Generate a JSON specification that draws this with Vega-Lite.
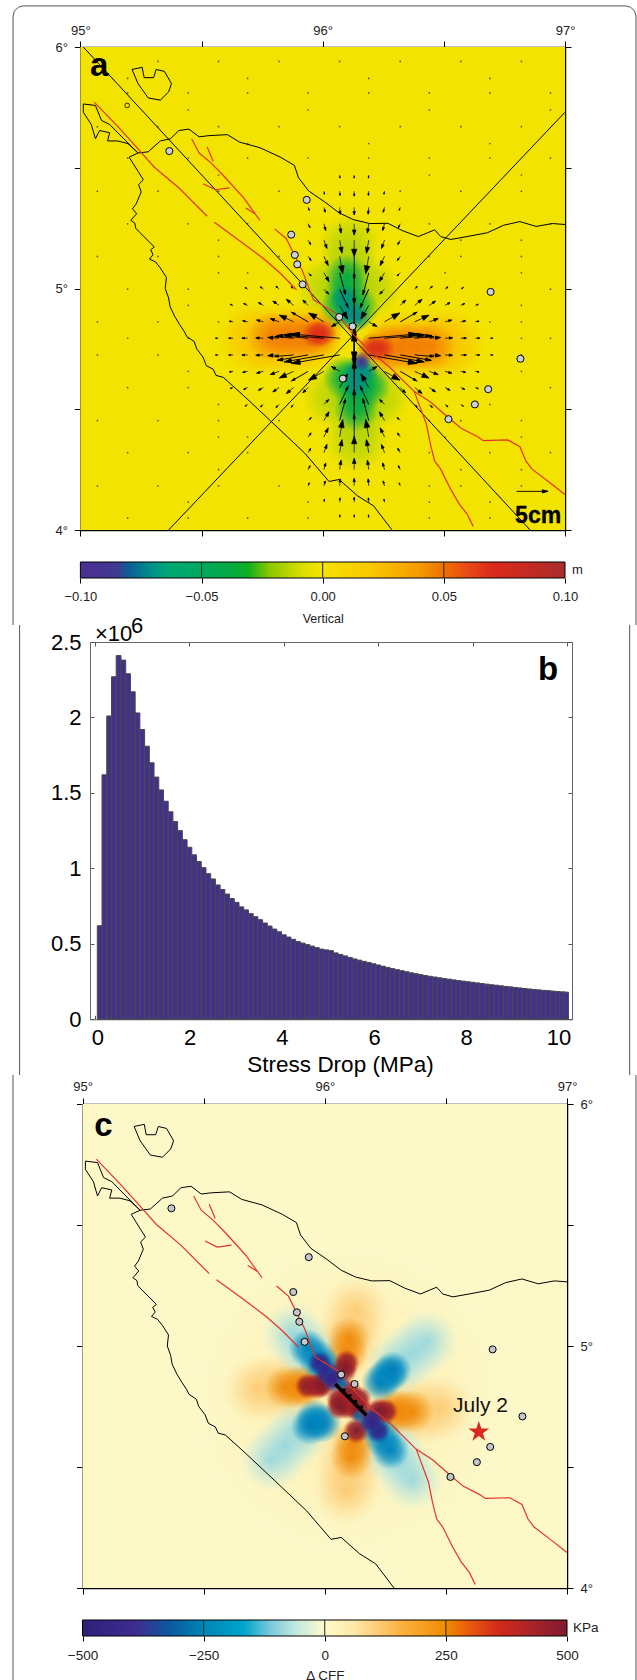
{"$schema":"https://vega.github.io/schema/vega-lite/v6.json","padding":0,"spacing":0,"bounds":"flush","background":"white","config":{"view":{"stroke":null},"font":"Liberation Sans","text":{"font":"Liberation Sans"},"axis":{"labelFont":"Liberation Sans","titleFont":"Liberation Sans","titleFontWeight":"normal","grid":false,"zindex":2}},
"datasets":{
"coast":[{"s":"n","x":95.238,"y":5.561},{"s":"n","x":95.28,"y":5.566},{"s":"n","x":95.33,"y":5.611},{"s":"n","x":95.372,"y":5.62},{"s":"n","x":95.406,"y":5.654},{"s":"n","x":95.448,"y":5.66},{"s":"n","x":95.49,"y":5.628},{"s":"n","x":95.531,"y":5.633},{"s":"n","x":95.607,"y":5.637},{"s":"n","x":95.657,"y":5.606},{"s":"n","x":95.741,"y":5.583},{"s":"n","x":95.825,"y":5.544},{"s":"n","x":95.883,"y":5.51},{"s":"n","x":95.9,"y":5.459},{"s":"n","x":95.942,"y":5.404},{"s":"n","x":96.009,"y":5.358},{"s":"n","x":96.068,"y":5.313},{"s":"n","x":96.127,"y":5.285},{"s":"n","x":96.194,"y":5.269},{"s":"n","x":96.269,"y":5.27},{"s":"n","x":96.328,"y":5.24},{"s":"n","x":96.395,"y":5.215},{"s":"n","x":96.462,"y":5.243},{"s":"n","x":96.487,"y":5.215},{"s":"n","x":96.529,"y":5.203},{"s":"n","x":96.596,"y":5.215},{"s":"n","x":96.68,"y":5.231},{"s":"n","x":96.747,"y":5.262},{"s":"n","x":96.814,"y":5.277},{"s":"n","x":96.881,"y":5.257},{"s":"n","x":96.948,"y":5.269},{"s":"n","x":97,"y":5.265},
{"s":"w","x":95.238,"y":5.561},{"s":"w","x":95.201,"y":5.544},{"s":"w","x":95.238,"y":5.485},{"s":"w","x":95.26,"y":5.45},{"s":"w","x":95.24,"y":5.43},{"s":"w","x":95.251,"y":5.4},{"s":"w","x":95.23,"y":5.35},{"s":"w","x":95.215,"y":5.33},{"s":"w","x":95.232,"y":5.31},{"s":"w","x":95.208,"y":5.282},{"s":"w","x":95.225,"y":5.27},{"s":"w","x":95.228,"y":5.25},{"s":"w","x":95.246,"y":5.231},{"s":"w","x":95.305,"y":5.172},{"s":"w","x":95.29,"y":5.16},{"s":"w","x":95.3,"y":5.14},{"s":"w","x":95.285,"y":5.122},{"s":"w","x":95.31,"y":5.11},{"s":"w","x":95.33,"y":5.085},{"s":"w","x":95.355,"y":5.046},{"s":"w","x":95.35,"y":5.0},{"s":"w","x":95.364,"y":4.961},{"s":"w","x":95.37,"y":4.925},{"s":"w","x":95.389,"y":4.885},{"s":"w","x":95.41,"y":4.85},{"s":"w","x":95.43,"y":4.82},{"s":"w","x":95.439,"y":4.801},{"s":"w","x":95.47,"y":4.78},{"s":"w","x":95.48,"y":4.75},{"s":"w","x":95.506,"y":4.716},{"s":"w","x":95.52,"y":4.68},{"s":"w","x":95.548,"y":4.666},{"s":"w","x":95.56,"y":4.64},{"s":"w","x":95.59,"y":4.632},{"s":"w","x":95.674,"y":4.556},{"s":"w","x":95.791,"y":4.446},{"s":"w","x":95.925,"y":4.319},{"s":"w","x":96.026,"y":4.201},{"s":"w","x":96.068,"y":4.209},{"s":"w","x":96.143,"y":4.142},{"s":"w","x":96.21,"y":4.1},{"s":"w","x":96.286,"y":4},
{"s":"c","x":95.238,"y":5.561},{"s":"c","x":95.196,"y":5.6},{"s":"c","x":95.154,"y":5.611},{"s":"c","x":95.112,"y":5.611},{"s":"c","x":95.121,"y":5.645},{"s":"c","x":95.079,"y":5.654},{"s":"c","x":95.062,"y":5.62},{"s":"c","x":95.045,"y":5.679},{"s":"c","x":95.012,"y":5.73},{"s":"c","x":95.012,"y":5.764},{"s":"c","x":95.062,"y":5.758},{"s":"c","x":95.087,"y":5.696},{"s":"c","x":95.121,"y":5.679},{"s":"c","x":95.171,"y":5.628},{"s":"c","x":95.238,"y":5.561},
{"s":"i","x":95.213,"y":5.907},{"s":"i","x":95.255,"y":5.916},{"s":"i","x":95.263,"y":5.873},{"s":"i","x":95.302,"y":5.873},{"s":"i","x":95.313,"y":5.907},{"s":"i","x":95.347,"y":5.899},{"s":"i","x":95.376,"y":5.848},{"s":"i","x":95.364,"y":5.814},{"s":"i","x":95.33,"y":5.78},{"s":"i","x":95.28,"y":5.789},{"s":"i","x":95.238,"y":5.848},{"s":"i","x":95.213,"y":5.907}],
"red":[{"s":"r1","x":95.057,"y":5.772},{"s":"r1","x":95.154,"y":5.671},{"s":"r1","x":95.238,"y":5.578},{"s":"r1","x":95.305,"y":5.502},{"s":"r1","x":95.406,"y":5.417},{"s":"r1","x":95.523,"y":5.299},
{"s":"r2","x":95.553,"y":5.274},{"s":"r2","x":95.657,"y":5.198},{"s":"r2","x":95.758,"y":5.122},{"s":"r2","x":95.825,"y":5.063},{"s":"r2","x":95.892,"y":4.995},
{"s":"r3","x":95.801,"y":5.248},{"s":"r3","x":95.85,"y":5.206},{"s":"r3","x":95.883,"y":5.139},{"s":"r3","x":95.917,"y":5.071},{"s":"r3","x":95.939,"y":5.012},{"s":"r3","x":95.962,"y":4.953},{"s":"r3","x":96.06,"y":4.894},{"s":"r3","x":96.127,"y":4.809},{"s":"r3","x":96.194,"y":4.742},{"s":"r3","x":96.277,"y":4.674},{"s":"r3","x":96.378,"y":4.573},{"s":"r3","x":96.445,"y":4.53},{"s":"r3","x":96.512,"y":4.471},{"s":"r3","x":96.571,"y":4.421},{"s":"r3","x":96.638,"y":4.387},{"s":"r3","x":96.663,"y":4.37},{"s":"r3","x":96.764,"y":4.373},{"s":"r3","x":96.814,"y":4.345},{"s":"r3","x":96.839,"y":4.285},{"s":"r3","x":96.864,"y":4.252},{"s":"r3","x":96.931,"y":4.201},{"s":"r3","x":97,"y":4.147},
{"s":"r4","x":96.378,"y":4.573},{"s":"r4","x":96.428,"y":4.438},{"s":"r4","x":96.445,"y":4.353},{"s":"r4","x":96.462,"y":4.285},{"s":"r4","x":96.487,"y":4.252},{"s":"r4","x":96.529,"y":4.167},{"s":"r4","x":96.563,"y":4.108},{"s":"r4","x":96.596,"y":4.066},{"s":"r4","x":96.621,"y":4.015},
{"s":"r5","x":95.459,"y":5.62},{"s":"r5","x":95.49,"y":5.561},{"s":"r5","x":95.54,"y":5.519},{"s":"r5","x":95.59,"y":5.468},{"s":"r5","x":95.674,"y":5.375},{"s":"r5","x":95.741,"y":5.282},
{"s":"r6","x":95.523,"y":5.586},{"s":"r6","x":95.548,"y":5.527},
{"s":"r7","x":95.506,"y":5.434},{"s":"r7","x":95.557,"y":5.409},{"s":"r7","x":95.615,"y":5.417},
{"s":"r8","x":95.682,"y":5.333},{"s":"r8","x":95.724,"y":5.307}],
"st":[{"x":95.367,"y":5.569},{"x":95.934,"y":5.367},{"x":95.87,"y":5.223},{"x":95.885,"y":5.139},{"x":95.895,"y":5.1},{"x":95.917,"y":5.017},{"x":96.068,"y":4.882},{"x":96.123,"y":4.843},{"x":96.083,"y":4.627},{"x":96.519,"y":4.459},{"x":96.628,"y":4.52},{"x":96.683,"y":4.583},{"x":96.816,"y":4.709},{"x":96.693,"y":4.986}],
"hist":[{"s":0.1,"n":620000},{"s":0.2,"n":1620000},{"s":0.3,"n":2010000},{"s":0.4,"n":2270000},{"s":0.5,"n":2410000},{"s":0.6,"n":2380000},{"s":0.7,"n":2290000},{"s":0.8,"n":2170000},{"s":0.9,"n":2030000},{"s":1.0,"n":1920000},{"s":1.1,"n":1810000},{"s":1.2,"n":1700000},{"s":1.3,"n":1605000},{"s":1.4,"n":1520000},{"s":1.5,"n":1445000},{"s":1.6,"n":1375000},{"s":1.7,"n":1310000},{"s":1.8,"n":1250000},{"s":1.9,"n":1190000},{"s":2.0,"n":1140000},{"s":2.1,"n":1090000},{"s":2.2,"n":1045000},{"s":2.3,"n":1005000},{"s":2.4,"n":965000},{"s":2.5,"n":930000},{"s":2.6,"n":890000},{"s":2.7,"n":860000},{"s":2.8,"n":830000},{"s":2.9,"n":800000},{"s":3.0,"n":775000},{"s":3.1,"n":745000},{"s":3.2,"n":725000},{"s":3.3,"n":700000},{"s":3.4,"n":680000},{"s":3.5,"n":660000},{"s":3.6,"n":638000},{"s":3.7,"n":618000},{"s":3.8,"n":598000},{"s":3.9,"n":580000},{"s":4.0,"n":560000},{"s":4.1,"n":545000},{"s":4.2,"n":530000},{"s":4.3,"n":515000},{"s":4.4,"n":505000},{"s":4.5,"n":495000},{"s":4.6,"n":485000},{"s":4.7,"n":475000},{"s":4.8,"n":465000},{"s":4.9,"n":460000},{"s":5.0,"n":455000},{"s":5.1,"n":440000},{"s":5.2,"n":430000},{"s":5.3,"n":420000},{"s":5.4,"n":410000},{"s":5.5,"n":400000},{"s":5.6,"n":392000},{"s":5.7,"n":384000},{"s":5.8,"n":376000},{"s":5.9,"n":368000},{"s":6.0,"n":360000},{"s":6.1,"n":352000},{"s":6.2,"n":344000},{"s":6.3,"n":336000},{"s":6.4,"n":329000},{"s":6.5,"n":322000},{"s":6.6,"n":315000},{"s":6.7,"n":308000},{"s":6.8,"n":302000},{"s":6.9,"n":296000},{"s":7.0,"n":290000},{"s":7.1,"n":285000},{"s":7.2,"n":280000},{"s":7.3,"n":275000},{"s":7.4,"n":270000},{"s":7.5,"n":266000},{"s":7.6,"n":261000},{"s":7.7,"n":257000},{"s":7.8,"n":253000},{"s":7.9,"n":249000},{"s":8.0,"n":245000},{"s":8.1,"n":241000},{"s":8.2,"n":237000},{"s":8.3,"n":233000},{"s":8.4,"n":229000},{"s":8.5,"n":226000},{"s":8.6,"n":222000},{"s":8.7,"n":218000},{"s":8.8,"n":215000},{"s":8.9,"n":211000},{"s":9.0,"n":208000},{"s":9.1,"n":204000},{"s":9.2,"n":201000},{"s":9.3,"n":198000},{"s":9.4,"n":195000},{"s":9.5,"n":192000},{"s":9.6,"n":190000},{"s":9.7,"n":187000},{"s":9.8,"n":184000},{"s":9.9,"n":182000},{"s":9.98,"n":180000}],
"heatA":[{"x":96.11,"y":5.18,"v":-0.02},{"x":96.11,"y":5.08,"v":-0.02},{"x":96.1,"y":4.98,"v":-0.02},{"x":96.02,"y":5.0,"v":-0.02},{"x":96.19,"y":5.0,"v":-0.02},{"x":96.14,"y":4.37,"v":-0.02},{"x":96.14,"y":4.47,"v":-0.02},{"x":96.14,"y":4.56,"v":-0.02},{"x":96.05,"y":4.55,"v":-0.02},{"x":96.23,"y":4.55,"v":-0.02},
{"x":96.1,"y":5.05,"v":-0.05},{"x":96.1,"y":4.98,"v":-0.05},{"x":96.08,"y":4.92,"v":-0.05},{"x":96.14,"y":4.92,"v":-0.05},{"x":96.14,"y":4.5,"v":-0.05},{"x":96.14,"y":4.56,"v":-0.05},{"x":96.14,"y":4.63,"v":-0.05},{"x":96.19,"y":4.6,"v":-0.05},{"x":96.09,"y":4.63,"v":-0.05},
{"x":96.09,"y":4.96,"v":-0.07},{"x":96.11,"y":4.9,"v":-0.07},{"x":96.14,"y":4.88,"v":-0.07},{"x":96.14,"y":4.6,"v":-0.07},{"x":96.14,"y":4.65,"v":-0.07},{"x":96.17,"y":4.66,"v":-0.07},{"x":96.16,"y":4.7,"v":-0.1},
{"x":95.72,"y":4.79,"v":0.02},{"x":95.8,"y":4.79,"v":0.02},{"x":95.88,"y":4.79,"v":0.02},{"x":95.95,"y":4.8,"v":0.02},{"x":96.52,"y":4.77,"v":0.02},{"x":96.44,"y":4.77,"v":0.02},{"x":96.36,"y":4.76,"v":0.02},{"x":96.29,"y":4.76,"v":0.02},
{"x":95.79,"y":4.8,"v":0.04},{"x":95.86,"y":4.8,"v":0.04},{"x":95.92,"y":4.8,"v":0.04},{"x":95.98,"y":4.81,"v":0.04},{"x":96.45,"y":4.76,"v":0.04},{"x":96.38,"y":4.76,"v":0.04},{"x":96.32,"y":4.76,"v":0.04},{"x":96.26,"y":4.755,"v":0.04},
{"x":96.0,"y":4.815,"v":0.07},{"x":95.97,"y":4.81,"v":0.07},{"x":96.2,"y":4.755,"v":0.07},{"x":96.24,"y":4.752,"v":0.07}],
"heatC":[{"x":96.1,"y":4.78,"v":40},
{"x":95.72,"y":4.82,"v":100},{"x":95.8,"y":4.83,"v":100},{"x":95.87,"y":4.83,"v":100},{"x":96.48,"y":4.74,"v":100},{"x":96.4,"y":4.73,"v":100},{"x":96.33,"y":4.73,"v":100},{"x":96.13,"y":5.15,"v":100},{"x":96.11,"y":5.06,"v":100},{"x":96.09,"y":5.0,"v":100},{"x":96.09,"y":4.4,"v":100},{"x":96.1,"y":4.48,"v":100},{"x":96.11,"y":4.56,"v":100},
{"x":95.87,"y":5.05,"v":-100},{"x":95.92,"y":4.99,"v":-100},{"x":95.97,"y":4.93,"v":-100},{"x":96.36,"y":4.45,"v":-100},{"x":96.31,"y":4.52,"v":-100},{"x":96.27,"y":4.58,"v":-100},{"x":96.42,"y":5.02,"v":-100},{"x":96.36,"y":4.97,"v":-100},{"x":96.3,"y":4.92,"v":-100},{"x":95.78,"y":4.53,"v":-100},{"x":95.84,"y":4.59,"v":-100},{"x":95.9,"y":4.65,"v":-100},
{"x":95.84,"y":4.83,"v":250},{"x":95.89,"y":4.83,"v":250},{"x":95.92,"y":4.835,"v":250},{"x":96.36,"y":4.73,"v":250},{"x":96.31,"y":4.73,"v":250},{"x":96.28,"y":4.73,"v":250},{"x":96.1,"y":5.03,"v":250},{"x":96.09,"y":4.97,"v":250},{"x":96.11,"y":4.54,"v":250},{"x":96.12,"y":4.6,"v":250},
{"x":95.93,"y":4.99,"v":-250},{"x":95.97,"y":4.95,"v":-250},{"x":96.0,"y":4.91,"v":-250},{"x":96.27,"y":4.57,"v":-250},{"x":96.24,"y":4.62,"v":-250},{"x":96.2,"y":4.68,"v":-250},{"x":96.26,"y":4.88,"v":-250},{"x":96.23,"y":4.85,"v":-250},{"x":96.28,"y":4.9,"v":-250},{"x":95.96,"y":4.7,"v":-250},{"x":95.99,"y":4.68,"v":-250},{"x":95.94,"y":4.67,"v":-250},
{"x":95.93,"y":4.835,"v":450},{"x":95.97,"y":4.835,"v":450},{"x":95.99,"y":4.84,"v":450},{"x":96.25,"y":4.73,"v":450},{"x":96.22,"y":4.73,"v":450},{"x":96.09,"y":4.93,"v":450},{"x":96.08,"y":4.9,"v":450},{"x":96.13,"y":4.65,"v":450},{"x":96.06,"y":4.78,"v":450},{"x":96.1,"y":4.81,"v":450},{"x":96.1,"y":4.75,"v":450},{"x":96.14,"y":4.78,"v":450},{"x":96.14,"y":4.74,"v":450},{"x":96.06,"y":4.75,"v":450},
{"x":95.98,"y":4.93,"v":-450},{"x":96.01,"y":4.89,"v":-450},{"x":96.04,"y":4.86,"v":-450},{"x":96.22,"y":4.65,"v":-450},{"x":96.19,"y":4.69,"v":-450},{"x":96.076,"y":4.847,"v":-300},{"x":96.137,"y":4.71,"v":-300}],
"vec":[{"x":96.19,"y":4.794,"m":7.8,"a":85},{"x":96.255,"y":4.794,"m":6.4,"a":85},{"x":96.32,"y":4.794,"m":5,"a":85},{"x":96.38,"y":4.794,"m":3,"a":85},{"x":96.44,"y":4.794,"m":1.8,"a":86},{"x":96.505,"y":4.794,"m":1.2,"a":87},{"x":96.57,"y":4.794,"m":0.9,"a":88},{"x":96.63,"y":4.794,"m":0.7,"a":88},{"x":96.69,"y":4.794,"m":0.5,"a":88},
{"x":96.07,"y":4.794,"m":7.8,"a":275},{"x":96.005,"y":4.794,"m":6.4,"a":275},{"x":95.94,"y":4.794,"m":5,"a":275},{"x":95.88,"y":4.794,"m":3,"a":275},{"x":95.82,"y":4.794,"m":1.8,"a":274},{"x":95.755,"y":4.794,"m":1.2,"a":273},{"x":95.69,"y":4.794,"m":0.9,"a":272},{"x":95.63,"y":4.794,"m":0.7,"a":272},{"x":95.57,"y":4.794,"m":0.5,"a":272},
{"x":96.19,"y":4.725,"m":7.8,"a":100},{"x":96.255,"y":4.725,"m":6.4,"a":100},{"x":96.32,"y":4.725,"m":5,"a":100},{"x":96.38,"y":4.725,"m":3,"a":95},{"x":96.44,"y":4.725,"m":1.8,"a":94},{"x":96.505,"y":4.725,"m":1.2,"a":93},{"x":96.57,"y":4.725,"m":0.9,"a":92},{"x":96.63,"y":4.725,"m":0.7,"a":92},{"x":96.69,"y":4.725,"m":0.5,"a":92},
{"x":96.07,"y":4.725,"m":7.8,"a":260},{"x":96.005,"y":4.725,"m":6.4,"a":260},{"x":95.94,"y":4.725,"m":5,"a":260},{"x":95.88,"y":4.725,"m":3,"a":265},{"x":95.82,"y":4.725,"m":1.8,"a":266},{"x":95.755,"y":4.725,"m":1.2,"a":267},{"x":95.69,"y":4.725,"m":0.9,"a":268},{"x":95.63,"y":4.725,"m":0.7,"a":268},{"x":95.57,"y":4.725,"m":0.5,"a":268},
{"x":96.13,"y":4.862,"m":7,"a":180},{"x":96.19,"y":4.862,"m":1.5,"a":120},{"x":96.255,"y":4.862,"m":2.8,"a":60},{"x":96.32,"y":4.862,"m":3,"a":60},{"x":96.38,"y":4.862,"m":2.5,"a":65},{"x":96.44,"y":4.862,"m":1.5,"a":70},{"x":96.505,"y":4.862,"m":1.1,"a":75},{"x":96.57,"y":4.862,"m":0.8,"a":78},{"x":96.63,"y":4.862,"m":0.6,"a":80},
{"x":96.07,"y":4.862,"m":1.5,"a":240},{"x":96.005,"y":4.862,"m":2.8,"a":300},{"x":95.94,"y":4.862,"m":3,"a":300},{"x":95.88,"y":4.862,"m":2.5,"a":295},{"x":95.82,"y":4.862,"m":1.5,"a":290},{"x":95.755,"y":4.862,"m":1.1,"a":285},{"x":95.69,"y":4.862,"m":0.8,"a":282},{"x":95.63,"y":4.862,"m":0.6,"a":280},
{"x":96.13,"y":4.657,"m":7,"a":0},{"x":96.19,"y":4.657,"m":1.5,"a":60},{"x":96.255,"y":4.657,"m":2.8,"a":120},{"x":96.32,"y":4.657,"m":3,"a":120},{"x":96.38,"y":4.657,"m":2.5,"a":115},{"x":96.44,"y":4.657,"m":1.5,"a":110},{"x":96.505,"y":4.657,"m":1.1,"a":105},{"x":96.57,"y":4.657,"m":0.8,"a":102},{"x":96.63,"y":4.657,"m":0.6,"a":100},
{"x":96.07,"y":4.657,"m":1.5,"a":300},{"x":96.005,"y":4.657,"m":2.8,"a":240},{"x":95.94,"y":4.657,"m":3,"a":240},{"x":95.88,"y":4.657,"m":2.5,"a":245},{"x":95.82,"y":4.657,"m":1.5,"a":250},{"x":95.755,"y":4.657,"m":1.1,"a":255},{"x":95.69,"y":4.657,"m":0.8,"a":258},{"x":95.63,"y":4.657,"m":0.6,"a":260},
{"x":96.13,"y":4.93,"m":9,"a":180},{"x":96.19,"y":4.93,"m":2.5,"a":210},{"x":96.32,"y":4.93,"m":1.2,"a":45},{"x":96.38,"y":4.93,"m":1.5,"a":50},{"x":96.44,"y":4.93,"m":1.2,"a":55},{"x":96.505,"y":4.93,"m":0.9,"a":60},{"x":96.57,"y":4.93,"m":0.7,"a":65},{"x":96.63,"y":4.93,"m":0.5,"a":70},
{"x":96.07,"y":4.93,"m":2.5,"a":150},{"x":95.94,"y":4.93,"m":1.2,"a":315},{"x":95.88,"y":4.93,"m":1.5,"a":310},{"x":95.82,"y":4.93,"m":1.2,"a":305},{"x":95.755,"y":4.93,"m":0.9,"a":300},{"x":95.69,"y":4.93,"m":0.7,"a":295},{"x":95.63,"y":4.93,"m":0.5,"a":290},
{"x":96.13,"y":4.59,"m":9,"a":0},{"x":96.19,"y":4.59,"m":2.5,"a":330},{"x":96.32,"y":4.59,"m":1.2,"a":135},{"x":96.38,"y":4.59,"m":1.5,"a":130},{"x":96.44,"y":4.59,"m":1.2,"a":125},{"x":96.505,"y":4.59,"m":0.9,"a":120},{"x":96.57,"y":4.59,"m":0.7,"a":115},{"x":96.63,"y":4.59,"m":0.5,"a":110},
{"x":96.07,"y":4.59,"m":2.5,"a":30},{"x":95.94,"y":4.59,"m":1.2,"a":225},{"x":95.88,"y":4.59,"m":1.5,"a":230},{"x":95.82,"y":4.59,"m":1.2,"a":235},{"x":95.755,"y":4.59,"m":0.9,"a":240},{"x":95.69,"y":4.59,"m":0.7,"a":245},{"x":95.63,"y":4.59,"m":0.5,"a":250},
{"x":96.13,"y":4.997,"m":7,"a":180},{"x":96.19,"y":4.997,"m":3.2,"a":205},{"x":96.255,"y":4.997,"m":1.1,"a":225},{"x":96.38,"y":4.997,"m":0.6,"a":40},{"x":96.44,"y":4.997,"m":0.7,"a":45},{"x":96.505,"y":4.997,"m":0.6,"a":50},{"x":96.57,"y":4.997,"m":0.5,"a":55},
{"x":96.07,"y":4.997,"m":3.2,"a":155},{"x":96.005,"y":4.997,"m":1.1,"a":135},{"x":95.88,"y":4.997,"m":0.6,"a":320},{"x":95.82,"y":4.997,"m":0.7,"a":315},{"x":95.755,"y":4.997,"m":0.6,"a":310},{"x":95.69,"y":4.997,"m":0.5,"a":305},
{"x":96.13,"y":4.52,"m":7,"a":0},{"x":96.19,"y":4.52,"m":3.2,"a":335},{"x":96.255,"y":4.52,"m":1.1,"a":315},{"x":96.38,"y":4.52,"m":0.6,"a":140},{"x":96.44,"y":4.52,"m":0.7,"a":135},{"x":96.505,"y":4.52,"m":0.6,"a":130},{"x":96.57,"y":4.52,"m":0.5,"a":125},
{"x":96.07,"y":4.52,"m":3.2,"a":25},{"x":96.005,"y":4.52,"m":1.1,"a":45},{"x":95.88,"y":4.52,"m":0.6,"a":220},{"x":95.82,"y":4.52,"m":0.7,"a":225},{"x":95.755,"y":4.52,"m":0.6,"a":230},{"x":95.69,"y":4.52,"m":0.5,"a":235},
{"x":96.13,"y":5.065,"m":5,"a":180},{"x":96.19,"y":5.065,"m":3.6,"a":195},{"x":96.255,"y":5.065,"m":1.6,"a":210},{"x":96.32,"y":5.065,"m":0.7,"a":225},{"x":96.07,"y":5.065,"m":3.6,"a":165},{"x":96.005,"y":5.065,"m":1.6,"a":150},{"x":95.94,"y":5.065,"m":0.7,"a":135},
{"x":96.13,"y":4.453,"m":5,"a":0},{"x":96.19,"y":4.453,"m":3.6,"a":345},{"x":96.255,"y":4.453,"m":1.6,"a":330},{"x":96.32,"y":4.453,"m":0.7,"a":315},{"x":96.07,"y":4.453,"m":3.6,"a":15},{"x":96.005,"y":4.453,"m":1.6,"a":30},{"x":95.94,"y":4.453,"m":0.7,"a":45},
{"x":96.13,"y":5.133,"m":3.6,"a":180},{"x":96.19,"y":5.133,"m":2.8,"a":190},{"x":96.255,"y":5.133,"m":1.6,"a":205},{"x":96.32,"y":5.133,"m":0.8,"a":215},{"x":96.07,"y":5.133,"m":2.8,"a":170},{"x":96.005,"y":5.133,"m":1.6,"a":155},{"x":95.94,"y":5.133,"m":0.8,"a":145},
{"x":96.13,"y":4.385,"m":3.6,"a":0},{"x":96.19,"y":4.385,"m":2.8,"a":350},{"x":96.255,"y":4.385,"m":1.6,"a":335},{"x":96.32,"y":4.385,"m":0.8,"a":325},{"x":96.07,"y":4.385,"m":2.8,"a":10},{"x":96.005,"y":4.385,"m":1.6,"a":25},{"x":95.94,"y":4.385,"m":0.8,"a":35},
{"x":96.13,"y":5.2,"m":2.6,"a":180},{"x":96.19,"y":5.2,"m":2.1,"a":190},{"x":96.255,"y":5.2,"m":1.4,"a":200},{"x":96.32,"y":5.2,"m":0.8,"a":210},{"x":96.07,"y":5.2,"m":2.1,"a":170},{"x":96.005,"y":5.2,"m":1.4,"a":160},{"x":95.94,"y":5.2,"m":0.8,"a":150},
{"x":96.13,"y":4.32,"m":2.6,"a":0},{"x":96.19,"y":4.32,"m":2.1,"a":350},{"x":96.255,"y":4.32,"m":1.4,"a":340},{"x":96.32,"y":4.32,"m":0.8,"a":330},{"x":96.07,"y":4.32,"m":2.1,"a":10},{"x":96.005,"y":4.32,"m":1.4,"a":20},{"x":95.94,"y":4.32,"m":0.8,"a":30},
{"x":96.13,"y":5.268,"m":1.8,"a":180},{"x":96.19,"y":5.268,"m":1.5,"a":188},{"x":96.255,"y":5.268,"m":1.1,"a":195},{"x":96.32,"y":5.268,"m":0.7,"a":205},{"x":96.07,"y":5.268,"m":1.5,"a":172},{"x":96.005,"y":5.268,"m":1.1,"a":165},{"x":95.94,"y":5.268,"m":0.7,"a":155},
{"x":96.13,"y":4.25,"m":1.8,"a":0},{"x":96.19,"y":4.25,"m":1.5,"a":352},{"x":96.255,"y":4.25,"m":1.1,"a":345},{"x":96.32,"y":4.25,"m":0.7,"a":335},{"x":96.07,"y":4.25,"m":1.5,"a":8},{"x":96.005,"y":4.25,"m":1.1,"a":15},{"x":95.94,"y":4.25,"m":0.7,"a":25},
{"x":96.13,"y":5.336,"m":1.2,"a":180},{"x":96.19,"y":5.336,"m":1.1,"a":185},{"x":96.255,"y":5.336,"m":0.8,"a":195},{"x":96.32,"y":5.336,"m":0.5,"a":200},{"x":96.07,"y":5.336,"m":1.1,"a":175},{"x":96.005,"y":5.336,"m":0.8,"a":165},{"x":95.94,"y":5.336,"m":0.5,"a":160},
{"x":96.13,"y":4.183,"m":1.2,"a":0},{"x":96.19,"y":4.183,"m":1.1,"a":355},{"x":96.255,"y":4.183,"m":0.8,"a":345},{"x":96.32,"y":4.183,"m":0.5,"a":340},{"x":96.07,"y":4.183,"m":1.1,"a":5},{"x":96.005,"y":4.183,"m":0.8,"a":15},{"x":95.94,"y":4.183,"m":0.5,"a":20},
{"x":96.13,"y":5.403,"m":0.8,"a":180},{"x":96.19,"y":5.403,"m":0.7,"a":185},{"x":96.07,"y":5.403,"m":0.7,"a":175},{"x":96.255,"y":5.403,"m":0.5,"a":190},{"x":96.005,"y":5.403,"m":0.5,"a":170},
{"x":96.13,"y":4.115,"m":0.8,"a":0},{"x":96.19,"y":4.115,"m":0.7,"a":355},{"x":96.07,"y":4.115,"m":0.7,"a":5},{"x":96.255,"y":4.115,"m":0.5,"a":350},{"x":96.005,"y":4.115,"m":0.5,"a":10},
{"x":96.13,"y":5.47,"m":0.5,"a":180},{"x":96.19,"y":5.47,"m":0.5,"a":185},{"x":96.07,"y":5.47,"m":0.5,"a":175},{"x":96.13,"y":4.05,"m":0.5,"a":0},{"x":96.19,"y":4.05,"m":0.5,"a":355},{"x":96.07,"y":4.05,"m":0.5,"a":5},
{"x":96.8,"y":4.16,"m":5,"a":90}],
"dots":[{"x":95.07,"y":5.94},{"x":95.32,"y":5.94},{"x":95.57,"y":5.94},{"x":95.82,"y":5.94},{"x":96.07,"y":5.94},{"x":96.32,"y":5.94},{"x":96.57,"y":5.94},{"x":96.82,"y":5.94},{"x":95.195,"y":5.81},{"x":95.445,"y":5.81},{"x":95.69,"y":5.81},{"x":95.94,"y":5.81},{"x":96.19,"y":5.81},{"x":96.44,"y":5.81},{"x":96.69,"y":5.81},{"x":96.94,"y":5.81},{"x":95.07,"y":5.67},{"x":95.32,"y":5.67},{"x":95.57,"y":5.67},{"x":95.82,"y":5.67},{"x":96.07,"y":5.67},{"x":96.32,"y":5.67},{"x":96.57,"y":5.67},{"x":96.82,"y":5.67},{"x":95.195,"y":5.54},{"x":95.445,"y":5.54},{"x":95.69,"y":5.54},{"x":95.94,"y":5.54},{"x":96.19,"y":5.54},{"x":96.44,"y":5.54},{"x":96.69,"y":5.54},{"x":96.94,"y":5.54},{"x":95.07,"y":5.403},{"x":95.32,"y":5.403},{"x":95.57,"y":5.403},{"x":95.82,"y":5.403},{"x":96.32,"y":5.403},{"x":96.57,"y":5.403},{"x":96.82,"y":5.403},{"x":95.195,"y":5.268},{"x":95.445,"y":5.268},{"x":95.69,"y":5.268},{"x":96.44,"y":5.268},{"x":96.69,"y":5.268},{"x":96.94,"y":5.268},{"x":95.07,"y":5.133},{"x":95.32,"y":5.133},{"x":95.57,"y":5.133},{"x":95.82,"y":5.133},{"x":96.44,"y":5.133},{"x":96.57,"y":5.133},{"x":96.82,"y":5.133},{"x":95.195,"y":4.997},{"x":95.445,"y":4.997},{"x":96.69,"y":4.997},{"x":96.94,"y":4.997},{"x":95.07,"y":4.862},{"x":95.32,"y":4.862},{"x":95.57,"y":4.862},{"x":96.69,"y":4.862},{"x":96.82,"y":4.862},{"x":95.195,"y":4.794},{"x":95.445,"y":4.794},{"x":96.82,"y":4.794},{"x":96.94,"y":4.794},{"x":95.07,"y":4.725},{"x":95.32,"y":4.725},{"x":96.82,"y":4.725},{"x":95.195,"y":4.59},{"x":95.445,"y":4.59},{"x":96.69,"y":4.59},{"x":96.94,"y":4.59},{"x":95.07,"y":4.453},{"x":95.32,"y":4.453},{"x":95.57,"y":4.453},{"x":95.82,"y":4.453},{"x":96.44,"y":4.453},{"x":96.57,"y":4.453},{"x":96.82,"y":4.453},{"x":95.195,"y":4.32},{"x":95.445,"y":4.32},{"x":95.69,"y":4.32},{"x":96.44,"y":4.32},{"x":96.69,"y":4.32},{"x":96.94,"y":4.32},{"x":95.07,"y":4.183},{"x":95.32,"y":4.183},{"x":95.57,"y":4.183},{"x":95.82,"y":4.183},{"x":96.44,"y":4.183},{"x":96.57,"y":4.183},{"x":96.82,"y":4.183},{"x":95.195,"y":4.05},{"x":95.445,"y":4.05},{"x":95.69,"y":4.05},{"x":95.94,"y":4.05},{"x":96.44,"y":4.05},{"x":96.69,"y":4.05},{"x":96.94,"y":4.05},
{"x":95.195,"y":5.87},{"x":95.69,"y":5.87},{"x":96.19,"y":5.87},{"x":96.69,"y":5.87},{"x":95.445,"y":5.74},{"x":95.94,"y":5.74},{"x":96.44,"y":5.74},{"x":96.94,"y":5.74},{"x":95.69,"y":5.6},{"x":96.19,"y":5.6},{"x":96.69,"y":5.6},{"x":95.57,"y":5.47},{"x":96.44,"y":5.47},{"x":96.82,"y":5.47},{"x":95.57,"y":5.2},{"x":96.57,"y":5.2},{"x":96.82,"y":5.2},{"x":95.57,"y":5.065},{"x":95.69,"y":5.065},{"x":96.505,"y":5.065},{"x":96.82,"y":5.065},{"x":95.445,"y":4.93},{"x":96.82,"y":4.93},{"x":95.445,"y":4.657},{"x":96.82,"y":4.657},{"x":95.57,"y":4.52},{"x":96.69,"y":4.52},{"x":95.57,"y":4.385},{"x":95.69,"y":4.385},{"x":96.505,"y":4.385},{"x":96.82,"y":4.385},{"x":95.57,"y":4.25},{"x":96.57,"y":4.25},{"x":96.82,"y":4.25},{"x":95.445,"y":4.115},{"x":95.94,"y":4.115},{"x":96.44,"y":4.115},{"x":96.69,"y":4.115}]
},
"vconcat":[
{"width":637,"height":545,"layer":[{"layer":[
{"data":{"values":[{}]},"mark":{"type":"rect","fill":"#f2e300"},"encoding":{"x":{"datum":95,"type":"quantitative","title":null,"scale":{"domain":[95,97],"range":[80.4,565],"nice":false,"zero":false},"axis":{"orient":"top","offset":-47,"values":[95,95.5,96,96.5,97],"labelExpr":"datum.value%1==0?datum.value+'°':''","labelFontSize":13,"labelColor":"#222","tickColor":"#000","tickSize":6,"labelPadding":4,"domainColor":"#000","domainWidth":1.5,"title":null,"labelFlush":false}},"x2":{"datum":97},"y":{"datum":4,"type":"quantitative","title":null,"scale":{"domain":[4,6],"range":[530,47],"nice":false,"zero":false},"axis":{"orient":"left","offset":-80.4,"values":[4,4.5,5,5.5,6],"labelExpr":"datum.value%1==0?datum.value+'°':''","labelFontSize":13,"labelColor":"#222","tickColor":"#000","tickSize":6,"labelPadding":7,"domainColor":"#000","domainWidth":1.5,"title":null,"labelFlush":false}},"y2":{"datum":6}}},
{"data":{"name":"heatA"},"transform":[{"filter":"datum.v==-0.02"}],"mark":{"type":"point","filled":true,"opacity":1,"strokeWidth":0,"size":3848,"fill":{"gradient":"radial","x1":0.5,"y1":0.5,"r1":0,"x2":0.5,"y2":0.5,"r2":0.5,"stops":[{"offset":0,"color":"rgba(170,210,10,0.8)"},{"offset":0.55,"color":"rgba(170,210,10,0.5)"},{"offset":1,"color":"rgba(170,210,10,0)"}]}},"encoding":{"x":{"field":"x","type":"quantitative"},"y":{"field":"y","type":"quantitative"}}},
{"data":{"name":"heatA"},"transform":[{"filter":"datum.v==0.02"}],"mark":{"type":"point","filled":true,"opacity":1,"strokeWidth":0,"size":5200,"fill":{"gradient":"radial","x1":0.5,"y1":0.5,"r1":0,"x2":0.5,"y2":0.5,"r2":0.5,"stops":[{"offset":0,"color":"rgba(250,190,0,0.8)"},{"offset":0.55,"color":"rgba(250,190,0,0.5)"},{"offset":1,"color":"rgba(250,190,0,0)"}]}},"encoding":{"x":{"field":"x","type":"quantitative"},"y":{"field":"y","type":"quantitative"}}},
{"data":{"name":"heatA"},"transform":[{"filter":"datum.v==-0.05"}],"mark":{"type":"point","filled":true,"opacity":1,"strokeWidth":0,"size":1963,"fill":{"gradient":"radial","x1":0.5,"y1":0.5,"r1":0,"x2":0.5,"y2":0.5,"r2":0.5,"stops":[{"offset":0,"color":"rgba(0,170,70,0.95)"},{"offset":0.5,"color":"rgba(0,170,70,0.65)"},{"offset":1,"color":"rgba(0,170,70,0)"}]}},"encoding":{"x":{"field":"x","type":"quantitative"},"y":{"field":"y","type":"quantitative"}}},
{"data":{"name":"heatA"},"transform":[{"filter":"datum.v==0.04"}],"mark":{"type":"point","filled":true,"opacity":1,"strokeWidth":0,"size":2400,"fill":{"gradient":"radial","x1":0.5,"y1":0.5,"r1":0,"x2":0.5,"y2":0.5,"r2":0.5,"stops":[{"offset":0,"color":"rgba(242,120,5,0.85)"},{"offset":0.5,"color":"rgba(242,120,5,0.5)"},{"offset":1,"color":"rgba(242,120,5,0)"}]}},"encoding":{"x":{"field":"x","type":"quantitative"},"y":{"field":"y","type":"quantitative"}}},
{"data":{"name":"heatA"},"transform":[{"filter":"datum.v==-0.07"}],"mark":{"type":"point","filled":true,"opacity":1,"strokeWidth":0,"size":804,"fill":{"gradient":"radial","x1":0.5,"y1":0.5,"r1":0,"x2":0.5,"y2":0.5,"r2":0.5,"stops":[{"offset":0,"color":"rgba(0,140,135,0.95)"},{"offset":0.5,"color":"rgba(0,140,135,0.6)"},{"offset":1,"color":"rgba(0,140,135,0)"}]}},"encoding":{"x":{"field":"x","type":"quantitative"},"y":{"field":"y","type":"quantitative"}}},
{"data":{"name":"heatA"},"transform":[{"filter":"datum.v==-0.1"}],"mark":{"type":"point","filled":true,"opacity":1,"strokeWidth":0,"size":380,"fill":{"gradient":"radial","x1":0.5,"y1":0.5,"r1":0,"x2":0.5,"y2":0.5,"r2":0.5,"stops":[{"offset":0,"color":"rgba(60,50,150,1)"},{"offset":0.5,"color":"rgba(60,50,150,0.7)"},{"offset":1,"color":"rgba(60,50,150,0)"}]}},"encoding":{"x":{"field":"x","type":"quantitative"},"y":{"field":"y","type":"quantitative"}}},
{"data":{"name":"heatA"},"transform":[{"filter":"datum.v==0.07"}],"mark":{"type":"point","filled":true,"opacity":1,"strokeWidth":0,"size":804,"fill":{"gradient":"radial","x1":0.5,"y1":0.5,"r1":0,"x2":0.5,"y2":0.5,"r2":0.5,"stops":[{"offset":0,"color":"rgba(220,42,26,0.95)"},{"offset":0.5,"color":"rgba(220,42,26,0.6)"},{"offset":1,"color":"rgba(220,42,26,0)"}]}},"encoding":{"x":{"field":"x","type":"quantitative"},"y":{"field":"y","type":"quantitative"}}},
{"data":{"name":"dots"},"mark":{"type":"point","filled":true,"opacity":0.7,"strokeWidth":0,"size":3,"color":"#222"},"encoding":{"x":{"field":"x","type":"quantitative"},"y":{"field":"y","type":"quantitative"}}},
{"data":{"name":"vec"},"transform":[{"filter":"datum.m<3"}],"mark":{"type":"point","filled":true,"opacity":1,"color":"#000","stroke":"#000","strokeWidth":0.7,"shape":"M0,0L0,-1M-0.16,-0.55L0,-1L0.16,-0.55Z"},"encoding":{"x":{"field":"x","type":"quantitative"},"y":{"field":"y","type":"quantitative"},"angle":{"field":"a","type":"quantitative","scale":null},"size":{"field":"m","type":"quantitative","legend":null,"scale":{"type":"pow","exponent":2,"domain":[0,10],"range":[0,15876]}}}},
{"data":{"name":"vec"},"transform":[{"filter":"datum.m>=3"}],"mark":{"type":"point","filled":true,"opacity":1,"color":"#000","stroke":"#000","strokeWidth":0.9,"shape":"M0,0L0,-1M-0.05,-0.82L0,-1L0.05,-0.82Z"},"encoding":{"x":{"field":"x","type":"quantitative"},"y":{"field":"y","type":"quantitative"},"angle":{"field":"a","type":"quantitative","scale":null},"size":{"field":"m","type":"quantitative","legend":null,"scale":{"type":"pow","exponent":2,"domain":[0,10],"range":[0,15876]}}}},
{"data":{"name":"coast"},"mark":{"type":"line","color":"#000","strokeWidth":1},"encoding":{"x":{"field":"x","type":"quantitative"},"y":{"field":"y","type":"quantitative"},"detail":{"field":"s"},"order":{"value":null}}},
{"data":{"values":[{"s":"a","x":95.012,"y":6},{"s":"a","x":96.856,"y":4},{"s":"b","x":95.364,"y":4},{"s":"b","x":97,"y":5.73}]},"mark":{"type":"line","color":"#000","strokeWidth":1},"encoding":{"x":{"field":"x","type":"quantitative"},"y":{"field":"y","type":"quantitative"},"detail":{"field":"s"},"order":{"value":null}}},
{"data":{"name":"red"},"mark":{"type":"line","color":"#e2342c","strokeWidth":1.2},"encoding":{"x":{"field":"x","type":"quantitative"},"y":{"field":"y","type":"quantitative"},"detail":{"field":"s"},"order":{"value":null}}},
{"data":{"name":"st"},"mark":{"type":"point","filled":true,"opacity":1,"fill":"#ccd0da","stroke":"#000","strokeWidth":1,"size":50},"encoding":{"x":{"field":"x","type":"quantitative"},"y":{"field":"y","type":"quantitative"}}},
{"data":{"values":[{"x":95.193,"y":5.758}]},"mark":{"type":"point","filled":false,"opacity":1,"stroke":"#000","strokeWidth":0.8,"size":22},"encoding":{"x":{"field":"x","type":"quantitative"},"y":{"field":"y","type":"quantitative"}}},
{"data":{"values":[{"x":95.04,"y":5.878,"t":"a"}]},"mark":{"type":"text","fontSize":33,"fontWeight":"bold","align":"left","baseline":"alphabetic","color":"#000"},"encoding":{"x":{"field":"x","type":"quantitative"},"y":{"field":"y","type":"quantitative"},"text":{"field":"t"}}},
{"data":{"values":[{"x":96.889,"y":4.029,"t":"5cm"}]},"mark":{"type":"text","fontSize":23,"fontWeight":"bold","align":"center","baseline":"alphabetic","color":"#000","stroke":"#000","strokeWidth":0.3},"encoding":{"x":{"field":"x","type":"quantitative"},"y":{"field":"y","type":"quantitative"},"text":{"field":"t"}}},
{"data":{"values":[{"s":"f","x":94.722,"y":3.938},{"s":"f","x":94.722,"y":6.128},{"s":"f","x":94.728,"y":6.15},{"s":"f","x":94.745,"y":6.165},{"s":"f","x":94.763,"y":6.17},{"s":"f","x":97.252,"y":6.17},{"s":"f","x":97.27,"y":6.165},{"s":"f","x":97.287,"y":6.15},{"s":"f","x":97.293,"y":6.128},{"s":"f","x":97.293,"y":3.938}]},"mark":{"type":"line","color":"#555","strokeWidth":1},"encoding":{"x":{"field":"x","type":"quantitative"},"y":{"field":"y","type":"quantitative"},"order":{"value":null}}}
]},
{"data":{"values":[{}]},"mark":{"type":"rule","opacity":0},"encoding":{"x":{"datum":95,"type":"quantitative","axis":{"orient":"bottom","offset":-15,"values":[95,95.5,96,96.5,97],"labels":false,"tickColor":"#000","tickSize":6,"domainColor":"#000","domainWidth":1.5,"title":null}},"y":{"datum":4,"type":"quantitative","axis":{"orient":"right","offset":-72,"values":[4,4.5,5,5.5,6],"labels":false,"tickColor":"#000","tickSize":6,"domainColor":"#000","domainWidth":1.5,"title":null}}}}
],"resolve":{"axis":{"x":"independent","y":"independent"}}},
{"width":637,"height":80,"layer":[
{"data":{"values":[{}]},"mark":{"type":"rect","stroke":"#000","strokeWidth":1,"fill":{"gradient":"linear","x1":0,"y1":0,"x2":1,"y2":0,"stops":[{"offset":0,"color":"#4b2e94"},{"offset":0.075,"color":"#3f3a92"},{"offset":0.1,"color":"#0b5d96"},{"offset":0.145,"color":"#00908a"},{"offset":0.185,"color":"#00a972"},{"offset":0.25,"color":"#00a860"},{"offset":0.32,"color":"#05ab3a"},{"offset":0.347,"color":"#10b020"},{"offset":0.39,"color":"#8ac800"},{"offset":0.46,"color":"#dcdf00"},{"offset":0.5,"color":"#f5e300"},{"offset":0.6,"color":"#f9c800"},{"offset":0.7,"color":"#f59a00"},{"offset":0.75,"color":"#ee7000"},{"offset":0.8,"color":"#e84814"},{"offset":0.85,"color":"#dc2a1a"},{"offset":0.92,"color":"#c62a22"},{"offset":1,"color":"#a82c2c"}]}},"encoding":{"x":{"datum":-0.1,"type":"quantitative","scale":{"domain":[-0.1,0.1],"range":[80.4,565],"nice":false,"zero":false},"axis":{"orient":"bottom","offset":-47,"values":[-0.1,-0.05,0,0.05,0.1],"format":".2f","domain":false,"tickSize":5,"tickColor":"#000","labelFontSize":13,"labelColor":"#222","labelPadding":7,"title":"Vertical","titleFontSize":12.5,"titleColor":"#222","titlePadding":9,"labelFlush":false}},"x2":{"datum":0.1},"y":{"datum":0,"type":"quantitative","axis":null,"scale":{"domain":[0,1],"range":[33,17],"nice":false,"zero":false}},"y2":{"datum":1}}},
{"data":{"values":[{"v":-0.05},{"v":0},{"v":0.05}]},"mark":{"type":"rule","color":"#222","strokeWidth":1},"encoding":{"x":{"field":"v","type":"quantitative"},"y":{"datum":0},"y2":{"datum":1}}},
{"data":{"values":[{"t":"m"}]},"mark":{"type":"text","fontSize":13,"align":"left","dx":7,"color":"#222"},"encoding":{"x":{"datum":0.1},"y":{"datum":0.5},"text":{"field":"t"}}},
{"data":{"values":[{"f":-0.1278},{"f":0.1293}]},"mark":{"type":"rule","color":"#555","strokeWidth":1},"encoding":{"x":{"field":"f","type":"quantitative"}}}
]},
{"width":637,"height":450,"layer":[{"layer":[
{"data":{"name":"hist"},"mark":{"type":"bar","size":4.82,"fill":"#43308a","stroke":"#4a4a4a","strokeWidth":1},"encoding":{"x":{"field":"s","type":"quantitative","title":"Stress Drop (MPa)","scale":{"domain":[0,10],"range":[90,572],"nice":false,"zero":false},"axis":{"orient":"bottom","offset":-55.7,"values":[0,2,4,6,8,10],"format":"d","labelFontSize":22,"labelColor":"#000","tickColor":"#555","tickSize":-4,"labelPadding":12,"domainColor":"#666","labelOffset":{"expr":"2.4-datum.value*1.1"},"titleFontSize":22.5,"titleColor":"#000","titlePadding":5,"titleX":340,"labelFlush":false}},"y":{"field":"n","type":"quantitative","title":null,"scale":{"domain":[0,2500000],"range":[394.3,17],"nice":false,"zero":true},"axis":{"orient":"left","offset":-90,"values":[0,500000,1000000,1500000,2000000,2500000],"labelExpr":"''+datum.value/1000000","labelFontSize":22,"labelColor":"#000","tickColor":"#555","tickSize":-4,"labelPadding":13,"domainColor":"#666","title":null,"labelFlush":false}}}},
{"data":{"values":[{"t":"×10"}]},"mark":{"type":"text","fontSize":22,"align":"left","baseline":"alphabetic","dy":-1,"color":"#000"},"encoding":{"x":{"datum":0},"y":{"datum":2500000},"text":{"field":"t"}}},
{"data":{"values":[{"t":"6"}]},"mark":{"type":"text","fontSize":22,"align":"left","baseline":"alphabetic","dx":36,"dy":-9,"color":"#000"},"encoding":{"x":{"datum":0},"y":{"datum":2500000},"text":{"field":"t"}}},
{"data":{"values":[{"x":9.385,"y":2248000,"t":"b"}]},"mark":{"type":"text","fontSize":33,"fontWeight":"bold","align":"left","baseline":"alphabetic","color":"#000"},"encoding":{"x":{"field":"x","type":"quantitative"},"y":{"field":"y","type":"quantitative"},"text":{"field":"t"}}},
{"data":{"values":[{"f":-1.5975},{"f":11.328}]},"mark":{"type":"rule","color":"#555","strokeWidth":1},"encoding":{"x":{"field":"f","type":"quantitative"}}}
]},
{"data":{"values":[{}]},"mark":{"type":"rule","opacity":0},"encoding":{"x":{"datum":0,"type":"quantitative","axis":{"orient":"top","offset":-17,"values":[0,2,4,6,8,10],"labels":false,"tickColor":"#555","tickSize":-4,"domainColor":"#666","title":null}},"y":{"datum":0,"type":"quantitative","axis":{"orient":"right","offset":-65,"values":[0,500000,1000000,1500000,2000000,2500000],"labels":false,"tickColor":"#555","tickSize":-4,"domainColor":"#666","title":null}}}}
],"resolve":{"axis":{"x":"independent","y":"independent"}}},
{"width":637,"height":525,"layer":[{"layer":[
{"data":{"values":[{}]},"mark":{"type":"rect","fill":"#fdf8c8"},"encoding":{"x":{"datum":95,"type":"quantitative","title":null,"scale":{"domain":[95,97],"range":[82.5,567],"nice":false,"zero":false},"axis":{"orient":"top","offset":-29,"values":[95,95.5,96,96.5,97],"labelExpr":"datum.value%1==0?datum.value+'°':''","labelFontSize":13,"labelColor":"#222","tickColor":"#000","tickSize":6,"labelPadding":5,"domainColor":"#000","domainWidth":1.5,"title":null,"labelFlush":false}},"x2":{"datum":97},"y":{"datum":4,"type":"quantitative","title":null,"scale":{"domain":[4,6],"range":[513,29],"nice":false,"zero":false},"axis":{"orient":"right","offset":-70,"values":[4,4.5,5,5.5,6],"labelExpr":"datum.value%1==0?datum.value+'°':''","labelFontSize":13,"labelColor":"#222","tickColor":"#000","tickSize":6,"labelPadding":7,"domainColor":"#000","domainWidth":1.5,"title":null,"labelFlush":false}},"y2":{"datum":6}}},
{"data":{"name":"heatC"},"transform":[{"filter":"datum.v==40"}],"mark":{"type":"point","filled":true,"opacity":1,"strokeWidth":0,"size":90000,"fill":{"gradient":"radial","x1":0.5,"y1":0.5,"r1":0,"x2":0.5,"y2":0.5,"r2":0.5,"stops":[{"offset":0,"color":"rgba(253,236,170,0.9)"},{"offset":1,"color":"rgba(253,236,170,0)"}]}},"encoding":{"x":{"field":"x","type":"quantitative"},"y":{"field":"y","type":"quantitative"}}},
{"data":{"name":"heatC"},"transform":[{"filter":"datum.v==100"}],"mark":{"type":"point","filled":true,"opacity":1,"strokeWidth":0,"size":4800,"fill":{"gradient":"radial","x1":0.5,"y1":0.5,"r1":0,"x2":0.5,"y2":0.5,"r2":0.5,"stops":[{"offset":0,"color":"rgba(252,190,90,0.75)"},{"offset":0.55,"color":"rgba(252,205,120,0.4)"},{"offset":1,"color":"rgba(252,220,150,0)"}]}},"encoding":{"x":{"field":"x","type":"quantitative"},"y":{"field":"y","type":"quantitative"}}},
{"data":{"name":"heatC"},"transform":[{"filter":"datum.v==-100"}],"mark":{"type":"point","filled":true,"opacity":1,"strokeWidth":0,"size":4200,"fill":{"gradient":"radial","x1":0.5,"y1":0.5,"r1":0,"x2":0.5,"y2":0.5,"r2":0.5,"stops":[{"offset":0,"color":"rgba(120,200,222,0.8)"},{"offset":0.55,"color":"rgba(170,225,225,0.45)"},{"offset":1,"color":"rgba(200,238,225,0)"}]}},"encoding":{"x":{"field":"x","type":"quantitative"},"y":{"field":"y","type":"quantitative"}}},
{"data":{"name":"heatC"},"transform":[{"filter":"datum.v==250"}],"mark":{"type":"point","filled":true,"opacity":1,"strokeWidth":0,"size":1900,"fill":{"gradient":"radial","x1":0.5,"y1":0.5,"r1":0,"x2":0.5,"y2":0.5,"r2":0.5,"stops":[{"offset":0,"color":"rgba(238,130,5,0.95)"},{"offset":0.5,"color":"rgba(240,140,10,0.55)"},{"offset":1,"color":"rgba(240,150,20,0)"}]}},"encoding":{"x":{"field":"x","type":"quantitative"},"y":{"field":"y","type":"quantitative"}}},
{"data":{"name":"heatC"},"transform":[{"filter":"datum.v==-250"}],"mark":{"type":"point","filled":true,"opacity":1,"strokeWidth":0,"size":1500,"fill":{"gradient":"radial","x1":0.5,"y1":0.5,"r1":0,"x2":0.5,"y2":0.5,"r2":0.5,"stops":[{"offset":0,"color":"rgba(0,125,185,1)"},{"offset":0.55,"color":"rgba(0,135,190,0.65)"},{"offset":1,"color":"rgba(0,150,200,0)"}]}},"encoding":{"x":{"field":"x","type":"quantitative"},"y":{"field":"y","type":"quantitative"}}},
{"data":{"name":"heatC"},"transform":[{"filter":"datum.v==450"}],"mark":{"type":"point","filled":true,"opacity":1,"strokeWidth":0,"size":700,"fill":{"gradient":"radial","x1":0.5,"y1":0.5,"r1":0,"x2":0.5,"y2":0.5,"r2":0.5,"stops":[{"offset":0,"color":"rgba(125,26,45,1)"},{"offset":0.6,"color":"rgba(150,30,40,0.8)"},{"offset":1,"color":"rgba(200,40,25,0)"}]}},"encoding":{"x":{"field":"x","type":"quantitative"},"y":{"field":"y","type":"quantitative"}}},
{"data":{"name":"heatC"},"transform":[{"filter":"datum.v==-450"}],"mark":{"type":"point","filled":true,"opacity":1,"strokeWidth":0,"size":620,"fill":{"gradient":"radial","x1":0.5,"y1":0.5,"r1":0,"x2":0.5,"y2":0.5,"r2":0.5,"stops":[{"offset":0,"color":"rgba(50,32,130,1)"},{"offset":0.6,"color":"rgba(50,40,140,0.8)"},{"offset":1,"color":"rgba(10,90,160,0)"}]}},"encoding":{"x":{"field":"x","type":"quantitative"},"y":{"field":"y","type":"quantitative"}}},
{"data":{"name":"heatC"},"transform":[{"filter":"datum.v==-300"}],"mark":{"type":"point","filled":true,"opacity":1,"strokeWidth":0,"size":200,"fill":{"gradient":"radial","x1":0.5,"y1":0.5,"r1":0,"x2":0.5,"y2":0.5,"r2":0.5,"stops":[{"offset":0,"color":"rgba(0,110,175,1)"},{"offset":1,"color":"rgba(0,110,175,0)"}]}},"encoding":{"x":{"field":"x","type":"quantitative"},"y":{"field":"y","type":"quantitative"}}},
{"data":{"name":"coast"},"mark":{"type":"line","color":"#000","strokeWidth":1},"encoding":{"x":{"field":"x","type":"quantitative"},"y":{"field":"y","type":"quantitative"},"detail":{"field":"s"},"order":{"value":null}}},
{"data":{"name":"red"},"mark":{"type":"line","color":"#e2342c","strokeWidth":1.2},"encoding":{"x":{"field":"x","type":"quantitative"},"y":{"field":"y","type":"quantitative"},"detail":{"field":"s"},"order":{"value":null}}},
{"data":{"values":[{"x":96.043,"y":4.843},{"x":96.172,"y":4.714}]},"mark":{"type":"line","color":"#000","strokeWidth":3.5},"encoding":{"x":{"field":"x","type":"quantitative"},"y":{"field":"y","type":"quantitative"}}},
{"data":{"values":[{"x":96.081,"y":4.819},{"x":96.105,"y":4.796},{"x":96.128,"y":4.772},{"x":96.152,"y":4.748}]},"mark":{"type":"point","shape":"square","filled":true,"opacity":1,"color":"#000","size":7},"encoding":{"x":{"field":"x","type":"quantitative"},"y":{"field":"y","type":"quantitative"}}},
{"data":{"name":"st"},"mark":{"type":"point","filled":true,"opacity":1,"fill":"#c4c6cc","stroke":"#000","strokeWidth":1,"size":50},"encoding":{"x":{"field":"x","type":"quantitative"},"y":{"field":"y","type":"quantitative"}}},
{"data":{"values":[{"x":96.636,"y":4.645}]},"mark":{"type":"point","shape":"M0,-1L0.225,-0.309L0.951,-0.309L0.363,0.118L0.588,0.809L0,0.382L-0.588,0.809L-0.363,0.118L-0.951,-0.309L-0.225,-0.309Z","filled":true,"opacity":1,"color":"#d9281e","size":484},"encoding":{"x":{"field":"x","type":"quantitative"},"y":{"field":"y","type":"quantitative"}}},
{"data":{"values":[{"x":96.643,"y":4.726,"t":"July 2"}]},"mark":{"type":"text","fontSize":21,"align":"center","baseline":"alphabetic","color":"#111"},"encoding":{"x":{"field":"x","type":"quantitative"},"y":{"field":"y","type":"quantitative"},"text":{"field":"t"}}},
{"data":{"values":[{"x":95.049,"y":5.868,"t":"c"}]},"mark":{"type":"text","fontSize":33,"fontWeight":"bold","align":"left","baseline":"alphabetic","color":"#000"},"encoding":{"x":{"field":"x","type":"quantitative"},"y":{"field":"y","type":"quantitative"},"text":{"field":"t"}}},
{"data":{"values":[{"f":94.7131},{"f":97.2848}]},"mark":{"type":"rule","color":"#555","strokeWidth":1},"encoding":{"x":{"field":"f","type":"quantitative"}}}
]},
{"data":{"values":[{}]},"mark":{"type":"rule","opacity":0},"encoding":{"x":{"datum":95,"type":"quantitative","axis":{"orient":"bottom","offset":-12,"values":[95,95.5,96,96.5,97],"labels":false,"tickColor":"#000","tickSize":6,"domainColor":"#000","domainWidth":1.5,"title":null}},"y":{"datum":4,"type":"quantitative","axis":{"orient":"left","offset":-82.5,"values":[4,4.5,5,5.5,6],"labels":false,"tickColor":"#000","tickSize":6,"domainColor":"#000","domainWidth":1.5,"title":null}}}}
],"resolve":{"axis":{"x":"independent","y":"independent"}}},
{"width":637,"height":80,"layer":[
{"data":{"values":[{}]},"mark":{"type":"rect","stroke":"#000","strokeWidth":1,"fill":{"gradient":"linear","x1":0,"y1":0,"x2":1,"y2":0,"stops":[{"offset":0,"color":"#2f1f78"},{"offset":0.112,"color":"#3e2d90"},{"offset":0.18,"color":"#0a5aa0"},{"offset":0.25,"color":"#0085b5"},{"offset":0.333,"color":"#00a5cc"},{"offset":0.39,"color":"#7fcadb"},{"offset":0.445,"color":"#c5ecdf"},{"offset":0.5,"color":"#fdfacb"},{"offset":0.56,"color":"#fde8a8"},{"offset":0.66,"color":"#fbb040"},{"offset":0.75,"color":"#f08c00"},{"offset":0.8,"color":"#e8580c"},{"offset":0.86,"color":"#d22a18"},{"offset":0.93,"color":"#a8232a"},{"offset":1,"color":"#7f1a30"}]}},"encoding":{"x":{"datum":-500,"type":"quantitative","scale":{"domain":[-500,500],"range":[82.5,567],"nice":false,"zero":false},"axis":{"orient":"bottom","offset":-44,"values":[-500,-250,0,250,500],"domain":false,"tickSize":5,"tickColor":"#000","labelFontSize":13.5,"labelColor":"#222","labelPadding":7,"title":"Δ CFF","titleFontSize":13.5,"titleColor":"#222","titlePadding":7,"labelFlush":false}},"x2":{"datum":500},"y":{"datum":0,"type":"quantitative","axis":null,"scale":{"domain":[0,1],"range":[36,20],"nice":false,"zero":false}},"y2":{"datum":1}}},
{"data":{"values":[{"v":-250},{"v":0},{"v":250}]},"mark":{"type":"rule","color":"#222","strokeWidth":1},"encoding":{"x":{"field":"v","type":"quantitative"},"y":{"datum":0},"y2":{"datum":1}}},
{"data":{"values":[{"t":"KPa"}]},"mark":{"type":"text","fontSize":13.5,"align":"left","dx":6,"color":"#222"},"encoding":{"x":{"datum":500},"y":{"datum":0.5},"text":{"field":"t"}}},
{"data":{"values":[{"f":-643.4},{"f":642.4}]},"mark":{"type":"rule","color":"#555","strokeWidth":1},"encoding":{"x":{"field":"f","type":"quantitative"}}}
]}
]}
